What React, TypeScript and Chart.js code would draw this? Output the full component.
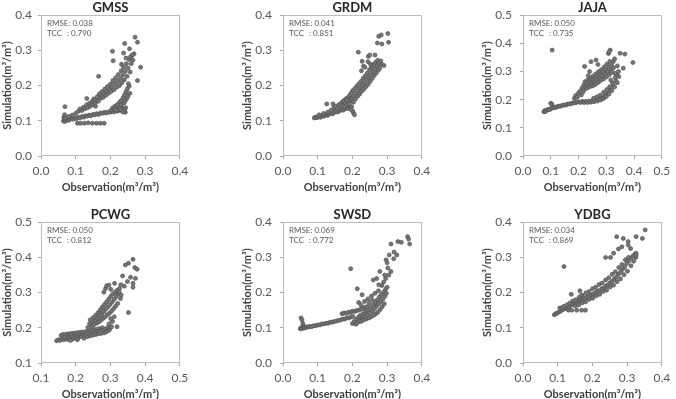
import React, { useEffect, useRef } from "react";
import { Chart, registerables } from "chart.js";

Chart.register(...registerables);

const FONT = "Lato, 'Open Sans', 'DejaVu Sans', sans-serif";

// [observation, simulation] pairs, m³/m³
const GMSS_POINTS: [number, number][] = [
  [0.065, 0.099], [0.067, 0.103], [0.069, 0.098], [0.072, 0.102], [0.075, 0.105], [0.079, 0.101], [0.083, 0.104],
  [0.088, 0.107], [0.092, 0.104], [0.097, 0.108], [0.102, 0.106], [0.107, 0.11], [0.112, 0.108], [0.118, 0.112],
  [0.123, 0.11], [0.128, 0.114], [0.133, 0.113], [0.139, 0.116], [0.144, 0.114], [0.15, 0.118], [0.155, 0.117],
  [0.161, 0.12], [0.166, 0.118], [0.172, 0.122], [0.177, 0.121], [0.183, 0.124], [0.188, 0.122], [0.194, 0.125],
  [0.199, 0.124], [0.205, 0.127], [0.21, 0.125], [0.216, 0.129], [0.221, 0.127], [0.227, 0.131], [0.232, 0.129],
  [0.238, 0.127], [0.243, 0.124],
  [0.066, 0.11], [0.068, 0.117], [0.071, 0.108], [0.08, 0.112], [0.09, 0.116],
  [0.1, 0.121], [0.108, 0.127], [0.112, 0.133], [0.118, 0.129], [0.122, 0.138], [0.127, 0.134], [0.131, 0.145],
  [0.134, 0.137], [0.139, 0.149], [0.142, 0.141], [0.146, 0.154], [0.149, 0.146], [0.152, 0.162], [0.156, 0.151],
  [0.159, 0.158], [0.162, 0.168], [0.165, 0.155], [0.168, 0.176], [0.171, 0.163], [0.174, 0.171], [0.176, 0.183],
  [0.179, 0.166], [0.182, 0.178], [0.184, 0.19], [0.187, 0.172], [0.19, 0.184], [0.192, 0.197], [0.195, 0.178],
  [0.197, 0.19], [0.2, 0.204], [0.202, 0.183], [0.205, 0.196], [0.207, 0.214], [0.21, 0.188], [0.213, 0.205],
  [0.215, 0.222], [0.218, 0.195], [0.221, 0.212], [0.223, 0.231], [0.226, 0.2], [0.229, 0.22], [0.231, 0.242],
  [0.233, 0.208], [0.236, 0.23], [0.238, 0.252], [0.24, 0.216], [0.243, 0.24], [0.246, 0.262], [0.248, 0.226],
  [0.251, 0.25], [0.254, 0.274], [0.257, 0.238], [0.26, 0.262], [0.262, 0.285], [0.265, 0.272], [0.268, 0.29],
  [0.258, 0.282], [0.245, 0.278], [0.232, 0.26],
  [0.203, 0.131], [0.207, 0.137], [0.211, 0.133], [0.214, 0.142], [0.218, 0.138], [0.221, 0.147], [0.224, 0.14],
  [0.227, 0.153], [0.23, 0.145], [0.232, 0.158], [0.235, 0.136], [0.237, 0.166], [0.239, 0.15], [0.241, 0.174],
  [0.243, 0.157], [0.245, 0.182], [0.247, 0.163], [0.249, 0.191], [0.251, 0.17], [0.254, 0.198], [0.256, 0.178],
  [0.252, 0.205], [0.24, 0.13], [0.236, 0.125], [0.244, 0.137], [0.229, 0.134], [0.217, 0.13],
  [0.069, 0.14], [0.132, 0.163], [0.157, 0.141], [0.166, 0.226], [0.206, 0.297], [0.208, 0.27], [0.238, 0.292],
  [0.241, 0.319], [0.255, 0.304], [0.264, 0.287], [0.271, 0.337], [0.278, 0.323], [0.287, 0.252], [0.278, 0.214],
  [0.105, 0.093], [0.114, 0.093], [0.125, 0.093], [0.136, 0.094], [0.148, 0.093], [0.16, 0.093], [0.171, 0.093],
  [0.182, 0.093],
];

const GRDM_POINTS: [number, number][] = [
  [0.09, 0.108], [0.094, 0.111], [0.098, 0.109], [0.103, 0.112], [0.108, 0.11], [0.113, 0.114], [0.118, 0.113],
  [0.123, 0.117], [0.128, 0.115], [0.133, 0.119], [0.138, 0.121], [0.143, 0.12], [0.148, 0.124], [0.153, 0.126],
  [0.158, 0.125], [0.163, 0.129], [0.168, 0.131], [0.173, 0.13], [0.178, 0.134], [0.183, 0.136], [0.188, 0.135],
  [0.193, 0.138], [0.198, 0.14], [0.203, 0.122], [0.206, 0.117], [0.201, 0.127], [0.196, 0.132],
  [0.104, 0.117], [0.117, 0.121], [0.129, 0.125], [0.138, 0.13], [0.146, 0.136], [0.151, 0.141], [0.157, 0.134],
  [0.161, 0.146], [0.166, 0.139], [0.169, 0.152], [0.172, 0.144], [0.175, 0.158], [0.177, 0.141], [0.18, 0.151],
  [0.182, 0.163], [0.184, 0.146], [0.187, 0.157], [0.189, 0.168], [0.191, 0.149], [0.193, 0.174], [0.195, 0.16],
  [0.197, 0.179], [0.199, 0.164], [0.201, 0.186], [0.203, 0.153], [0.205, 0.171], [0.207, 0.192], [0.209, 0.162],
  [0.211, 0.178], [0.213, 0.199], [0.215, 0.17], [0.217, 0.186], [0.219, 0.205], [0.221, 0.176], [0.223, 0.193],
  [0.225, 0.212], [0.227, 0.184], [0.229, 0.201], [0.231, 0.221], [0.233, 0.19], [0.235, 0.208], [0.237, 0.228],
  [0.239, 0.197], [0.241, 0.216], [0.243, 0.236], [0.245, 0.203], [0.247, 0.224], [0.249, 0.245], [0.251, 0.212],
  [0.253, 0.232], [0.255, 0.252], [0.257, 0.22], [0.259, 0.24], [0.261, 0.26], [0.263, 0.229], [0.265, 0.248],
  [0.267, 0.266], [0.269, 0.236], [0.271, 0.256], [0.273, 0.272], [0.275, 0.244], [0.277, 0.262], [0.279, 0.25],
  [0.282, 0.27], [0.285, 0.26],
  [0.126, 0.148], [0.144, 0.148], [0.217, 0.295], [0.246, 0.283], [0.25, 0.287], [0.265, 0.287], [0.291, 0.257],
  [0.276, 0.34], [0.283, 0.344], [0.302, 0.348], [0.272, 0.321], [0.285, 0.318], [0.304, 0.323], [0.226, 0.242],
  [0.232, 0.255], [0.245, 0.268], [0.228, 0.269], [0.236, 0.252], [0.252, 0.261],
];

const JAJA_POINTS: [number, number][] = [
  [0.075, 0.157], [0.078, 0.161], [0.081, 0.158], [0.085, 0.163], [0.089, 0.164], [0.093, 0.166], [0.097, 0.165],
  [0.1, 0.187], [0.104, 0.184], [0.102, 0.17], [0.107, 0.171], [0.112, 0.173], [0.118, 0.172], [0.124, 0.176],
  [0.13, 0.177], [0.136, 0.177], [0.142, 0.18], [0.148, 0.181], [0.154, 0.181], [0.16, 0.184], [0.166, 0.185],
  [0.172, 0.185], [0.178, 0.188], [0.184, 0.189], [0.19, 0.189], [0.196, 0.192], [0.202, 0.192], [0.208, 0.19],
  [0.214, 0.194],
  [0.22, 0.19], [0.226, 0.194], [0.232, 0.19], [0.238, 0.195], [0.244, 0.191], [0.25, 0.196], [0.256, 0.193],
  [0.262, 0.198], [0.268, 0.195], [0.274, 0.201], [0.28, 0.199], [0.285, 0.207], [0.29, 0.204], [0.295, 0.214],
  [0.3, 0.211], [0.305, 0.224], [0.31, 0.22], [0.315, 0.236], [0.32, 0.232], [0.325, 0.25], [0.33, 0.245],
  [0.335, 0.266], [0.34, 0.26], [0.345, 0.282], [0.29, 0.226], [0.302, 0.236], [0.312, 0.246], [0.322, 0.26],
  [0.332, 0.278], [0.278, 0.216], [0.266, 0.21], [0.254, 0.205], [0.316, 0.27], [0.338, 0.29],
  [0.185, 0.205], [0.19, 0.215], [0.196, 0.209], [0.2, 0.224], [0.206, 0.231], [0.21, 0.217], [0.213, 0.242],
  [0.216, 0.227], [0.219, 0.252], [0.221, 0.236], [0.223, 0.264], [0.226, 0.244], [0.229, 0.257], [0.231, 0.241],
  [0.233, 0.27], [0.236, 0.251], [0.239, 0.263], [0.241, 0.246], [0.243, 0.277], [0.246, 0.257], [0.249, 0.27],
  [0.251, 0.249], [0.253, 0.284], [0.256, 0.263], [0.259, 0.276], [0.261, 0.254], [0.263, 0.292], [0.266, 0.27],
  [0.269, 0.283], [0.271, 0.261], [0.273, 0.3], [0.276, 0.277], [0.279, 0.291], [0.281, 0.269], [0.283, 0.307],
  [0.286, 0.285], [0.289, 0.299], [0.291, 0.274], [0.293, 0.317], [0.296, 0.29], [0.299, 0.306], [0.301, 0.281],
  [0.303, 0.327], [0.306, 0.3], [0.309, 0.316], [0.311, 0.289], [0.313, 0.336], [0.316, 0.304], [0.319, 0.321],
  [0.321, 0.297], [0.326, 0.313], [0.331, 0.294],
  [0.105, 0.376], [0.222, 0.318], [0.245, 0.335], [0.263, 0.341], [0.27, 0.325], [0.308, 0.364], [0.314, 0.376],
  [0.31, 0.37], [0.35, 0.365], [0.367, 0.362], [0.396, 0.332], [0.361, 0.312], [0.344, 0.3], [0.34, 0.32],
  [0.33, 0.345], [0.325, 0.335], [0.235, 0.285], [0.24, 0.3],
];

const PCWG_POINTS: [number, number][] = [
  [0.145, 0.163], [0.15, 0.166], [0.155, 0.164], [0.16, 0.169], [0.158, 0.178], [0.163, 0.181], [0.166, 0.166],
  [0.171, 0.17], [0.173, 0.182], [0.176, 0.167], [0.179, 0.173], [0.181, 0.183], [0.184, 0.17], [0.187, 0.177],
  [0.189, 0.184], [0.192, 0.168], [0.195, 0.175], [0.197, 0.185], [0.2, 0.171], [0.203, 0.179], [0.205, 0.186],
  [0.208, 0.172], [0.211, 0.181], [0.213, 0.187], [0.216, 0.175], [0.219, 0.183], [0.221, 0.188], [0.224, 0.17],
  [0.227, 0.179], [0.229, 0.189], [0.232, 0.183], [0.234, 0.175], [0.237, 0.191], [0.24, 0.184], [0.242, 0.177],
  [0.245, 0.193], [0.248, 0.186], [0.25, 0.179], [0.253, 0.195], [0.256, 0.188], [0.258, 0.181], [0.261, 0.196],
  [0.264, 0.19], [0.266, 0.183], [0.269, 0.198], [0.272, 0.191], [0.274, 0.184], [0.277, 0.2], [0.28, 0.193],
  [0.283, 0.186], [0.286, 0.196], [0.289, 0.189], [0.292, 0.201], [0.296, 0.193], [0.3, 0.199], [0.303, 0.203],
  [0.168, 0.174], [0.185, 0.164], [0.205, 0.166],
  [0.235, 0.201], [0.24, 0.212], [0.242, 0.223], [0.246, 0.204], [0.248, 0.216], [0.251, 0.229], [0.253, 0.209],
  [0.256, 0.221], [0.258, 0.236], [0.261, 0.213], [0.263, 0.226], [0.265, 0.243], [0.267, 0.217], [0.269, 0.233],
  [0.271, 0.251], [0.273, 0.221], [0.275, 0.239], [0.277, 0.259], [0.279, 0.227], [0.281, 0.246], [0.283, 0.266],
  [0.285, 0.231], [0.287, 0.253], [0.289, 0.273], [0.291, 0.237], [0.293, 0.259], [0.295, 0.281], [0.297, 0.241],
  [0.299, 0.266], [0.301, 0.289], [0.303, 0.247], [0.305, 0.273], [0.307, 0.296], [0.309, 0.254], [0.311, 0.281],
  [0.313, 0.301], [0.315, 0.261], [0.317, 0.289], [0.319, 0.306], [0.321, 0.269], [0.323, 0.296], [0.326, 0.311],
  [0.329, 0.283], [0.281, 0.301], [0.286, 0.311], [0.289, 0.319], [0.296, 0.321], [0.301, 0.309], [0.306, 0.218],
  [0.301, 0.226], [0.311, 0.231], [0.296, 0.211],
  [0.365, 0.394], [0.352, 0.383], [0.343, 0.378], [0.37, 0.371], [0.377, 0.366], [0.335, 0.347], [0.358, 0.343],
  [0.372, 0.34], [0.365, 0.326], [0.349, 0.331], [0.365, 0.315], [0.352, 0.243], [0.312, 0.326], [0.325, 0.302],
  [0.331, 0.293], [0.319, 0.203], [0.34, 0.318], [0.33, 0.322],
];

const SWSD_POINTS: [number, number][] = [
  [0.05, 0.097], [0.052, 0.1], [0.054, 0.098], [0.052, 0.128], [0.055, 0.122], [0.057, 0.112], [0.058, 0.105],
  [0.06, 0.099], [0.062, 0.102], [0.065, 0.1], [0.068, 0.103],
  [0.072, 0.102], [0.077, 0.104], [0.082, 0.103], [0.088, 0.106], [0.094, 0.106], [0.1, 0.108], [0.106, 0.108],
  [0.112, 0.111], [0.118, 0.111], [0.124, 0.113], [0.13, 0.113], [0.136, 0.116], [0.142, 0.116], [0.148, 0.118],
  [0.154, 0.119], [0.16, 0.121], [0.166, 0.122], [0.172, 0.125], [0.178, 0.125], [0.184, 0.128], [0.19, 0.128],
  [0.196, 0.131], [0.201, 0.132],
  [0.17, 0.14], [0.176, 0.142], [0.182, 0.141], [0.188, 0.144], [0.194, 0.144], [0.2, 0.147], [0.206, 0.146],
  [0.212, 0.149], [0.218, 0.15], [0.224, 0.153], [0.23, 0.154], [0.236, 0.158], [0.241, 0.16],
  [0.2, 0.112], [0.205, 0.118], [0.21, 0.11], [0.212, 0.125], [0.215, 0.115], [0.218, 0.13], [0.22, 0.12],
  [0.222, 0.135], [0.225, 0.118], [0.228, 0.128], [0.23, 0.14], [0.232, 0.122], [0.235, 0.132], [0.238, 0.145],
  [0.24, 0.125], [0.242, 0.138], [0.245, 0.15], [0.248, 0.128], [0.25, 0.142], [0.252, 0.158], [0.255, 0.132],
  [0.258, 0.148], [0.26, 0.165], [0.262, 0.136], [0.264, 0.155], [0.266, 0.172], [0.268, 0.14], [0.27, 0.162],
  [0.272, 0.18], [0.274, 0.145], [0.276, 0.168], [0.278, 0.188], [0.28, 0.152], [0.282, 0.175], [0.284, 0.195],
  [0.286, 0.16], [0.288, 0.182], [0.29, 0.202], [0.292, 0.168], [0.294, 0.19], [0.296, 0.21], [0.298, 0.198],
  [0.3, 0.215], [0.218, 0.172], [0.225, 0.165], [0.235, 0.175], [0.245, 0.182], [0.255, 0.19], [0.265, 0.198],
  [0.275, 0.205], [0.285, 0.22], [0.29, 0.23], [0.296, 0.24], [0.248, 0.17], [0.258, 0.178],
  [0.195, 0.268], [0.214, 0.211], [0.228, 0.194], [0.26, 0.236], [0.276, 0.222], [0.279, 0.26], [0.293, 0.25],
  [0.302, 0.27], [0.311, 0.26], [0.297, 0.293], [0.306, 0.307], [0.319, 0.296], [0.32, 0.315], [0.328, 0.307],
  [0.311, 0.338], [0.331, 0.345], [0.341, 0.343], [0.359, 0.359], [0.362, 0.352], [0.365, 0.338], [0.305, 0.25],
  [0.3, 0.285], [0.27, 0.24],
];

const YDBG_POINTS: [number, number][] = [
  [0.09, 0.137], [0.094, 0.14], [0.098, 0.141], [0.103, 0.145], [0.108, 0.147], [0.113, 0.151], [0.118, 0.153],
  [0.123, 0.156], [0.128, 0.159], [0.133, 0.16], [0.138, 0.164], [0.143, 0.166], [0.149, 0.17], [0.155, 0.171],
  [0.161, 0.176], [0.167, 0.178], [0.173, 0.181], [0.179, 0.184], [0.185, 0.188], [0.191, 0.19], [0.197, 0.194],
  [0.203, 0.196], [0.209, 0.2], [0.215, 0.204], [0.221, 0.206], [0.227, 0.211], [0.233, 0.213], [0.239, 0.219],
  [0.245, 0.222], [0.251, 0.228], [0.257, 0.232], [0.263, 0.239], [0.269, 0.244], [0.275, 0.252], [0.281, 0.258],
  [0.287, 0.266], [0.293, 0.273], [0.299, 0.283], [0.305, 0.29], [0.311, 0.299], [0.317, 0.304], [0.322, 0.309],
  [0.106, 0.156], [0.112, 0.157], [0.118, 0.161], [0.126, 0.165], [0.134, 0.17], [0.143, 0.176], [0.152, 0.18],
  [0.162, 0.187], [0.171, 0.191], [0.181, 0.199], [0.19, 0.203], [0.2, 0.211], [0.209, 0.215], [0.219, 0.223],
  [0.228, 0.227], [0.238, 0.236], [0.247, 0.242], [0.257, 0.252], [0.266, 0.259], [0.276, 0.271], [0.285, 0.28],
  [0.295, 0.293], [0.304, 0.3],
  [0.151, 0.162], [0.161, 0.165], [0.171, 0.171], [0.181, 0.174], [0.191, 0.181], [0.201, 0.184], [0.211, 0.191],
  [0.221, 0.195], [0.231, 0.203], [0.241, 0.207], [0.251, 0.216], [0.261, 0.221], [0.271, 0.231], [0.281, 0.239],
  [0.291, 0.251], [0.301, 0.261], [0.311, 0.276], [0.319, 0.289], [0.325, 0.3],
  [0.131, 0.15], [0.141, 0.15], [0.155, 0.15], [0.169, 0.15], [0.18, 0.15],
  [0.118, 0.274], [0.139, 0.195], [0.164, 0.205], [0.169, 0.193], [0.27, 0.359], [0.289, 0.354], [0.303, 0.345],
  [0.326, 0.359], [0.352, 0.378], [0.344, 0.354], [0.303, 0.335], [0.275, 0.324], [0.238, 0.3], [0.252, 0.3],
  [0.261, 0.312], [0.326, 0.312], [0.326, 0.305], [0.285, 0.33], [0.31, 0.325],
];

const STATIONS = ["GMSS", "GRDM", "JAJA", "PCWG", "SWSD", "YDBG"];
const POINTS = [GMSS_POINTS, GRDM_POINTS, JAJA_POINTS, PCWG_POINTS, SWSD_POINTS, YDBG_POINTS];
const RMSE = [0.038, 0.041, 0.05, 0.05, 0.069, 0.034];
const TCC = [0.79, 0.851, 0.735, 0.812, 0.772, 0.869];
const X_MIN = [0, 0, 0, 0.1, 0, 0];
const X_MAX = [0.4, 0.4, 0.5, 0.5, 0.4, 0.4];
const Y_MIN = [0, 0, 0, 0.1, 0, 0];
const Y_MAX = [0.4, 0.4, 0.5, 0.5, 0.4, 0.4];

const X_TITLE = "Observation(m³/m³)";
const Y_TITLE = "Simulation(m³/m³)";

// panel grid geometry
const PLOT_LEFT = [41, 283, 523];
const PLOT_TOP = [15, 222];
const PLOT_W = 144;
const PLOT_H = 141;
const PAD_TOP = 15;
const PAD_RIGHT = 8;
const X_AXIS_H = 38;

const panelDecor = {
  id: "panelDecor",
  afterDraw(chart: any, _args: any, opts: any) {
    const { ctx, chartArea: a } = chart;
    ctx.save();
    ctx.strokeStyle = "#bdbdbd";
    ctx.lineWidth = 1;
    ctx.strokeRect(
      Math.round(a.left) + 0.5,
      Math.round(a.top) + 0.5,
      Math.round(a.right - a.left) - 1,
      Math.round(a.bottom - a.top) - 1
    );
    ctx.fillStyle = "#262626";
    ctx.font = `bold 13px ${FONT}`;
    ctx.textAlign = "center";
    ctx.textBaseline = "middle";
    ctx.fillText(opts.title, (a.left + a.right) / 2, a.top - 7);
    ctx.font = `8px ${FONT}`;
    ctx.fillStyle = "#595959";
    ctx.textAlign = "left";
    ctx.fillText(`RMSE: ${opts.rmse.toFixed(3)}`, a.left + 6, a.top + 8.5);
    ctx.fillText("TCC", a.left + 6, a.top + 18.5);
    ctx.fillText(`: ${opts.tcc.toFixed(3)}`, a.left + 26, a.top + 18.5);
    ctx.restore();
  },
};

function Panel({ index }: { index: number }) {
  const ref = useRef<HTMLCanvasElement>(null);
  const col = index % 3;
  const row = Math.floor(index / 3);
  const padL = col === 0 ? 41 : 45;
  const w = padL + PLOT_W + PAD_RIGHT;
  const h = PAD_TOP + PLOT_H + X_AXIS_H;

  useEffect(() => {
    if (!ref.current) return;
    const tickFont = { family: FONT, size: 12 };
    const titleFont = { family: FONT, size: 11, weight: "bold" as const };
    const grid = {
      display: true,
      drawOnChartArea: false,
      drawTicks: true,
      tickLength: 3,
      color: "#a6a6a6",
    };
    const chart = new Chart(ref.current, {
      type: "scatter",
      data: {
        datasets: [
          {
            data: POINTS[index].map(([x, y]) => ({ x, y })),
            pointRadius: 2,
            pointHoverRadius: 2,
            backgroundColor: "#767676",
            borderColor: "#525252",
            borderWidth: 0.7,
          },
        ],
      },
      options: {
        responsive: false,
        animation: false,
        devicePixelRatio: 1,
        layout: { padding: { top: PAD_TOP, right: PAD_RIGHT, left: 0, bottom: 0 } },
        plugins: {
          legend: { display: false },
          tooltip: { enabled: false },
          panelDecor: { title: STATIONS[index], rmse: RMSE[index], tcc: TCC[index] },
        } as any,
        scales: {
          x: {
            type: "linear",
            min: X_MIN[index],
            max: X_MAX[index],
            grid,
            border: { display: false },
            ticks: {
              stepSize: 0.1,
              autoSkip: false,
              maxRotation: 0,
              padding: 4.8,
              color: "#595959",
              font: tickFont,
              callback: (v: any) => Number(v).toFixed(1),
            },
            title: {
              display: true,
              text: X_TITLE,
              color: "#404040",
              font: titleFont,
              padding: { top: 0, bottom: 0.4 },
            },
            afterFit: (s: any) => {
              s.height = X_AXIS_H;
            },
          },
          y: {
            type: "linear",
            min: Y_MIN[index],
            max: Y_MAX[index],
            grid,
            border: { display: false },
            ticks: {
              stepSize: 0.1,
              autoSkip: false,
              padding: col === 0 ? 6 : 8,
              color: "#595959",
              font: tickFont,
              callback: (v: any) => Number(v).toFixed(1),
            },
            title: {
              display: true,
              text: Y_TITLE,
              color: "#404040",
              font: titleFont,
              padding: { top: col === 0 ? 0.4 : 2.4, bottom: 0 },
            },
            afterFit: (s: any) => {
              s.width = padL;
            },
          },
        },
      },
      plugins: [panelDecor],
    });
    return () => chart.destroy();
  }, [index]);

  return (
    <canvas
      ref={ref}
      width={w}
      height={h}
      style={{
        position: "absolute",
        left: PLOT_LEFT[col] - padL,
        top: PLOT_TOP[row] - PAD_TOP,
        width: w,
        height: h,
      }}
    />
  );
}

export default function App() {
  return (
    <div
      style={{
        position: "fixed",
        left: 0,
        top: 0,
        width: 676,
        height: 399,
        overflow: "hidden",
        background: "#ffffff",
      }}
    >
      {STATIONS.map((name, i) => (
        <Panel key={name} index={i} />
      ))}
    </div>
  );
}
